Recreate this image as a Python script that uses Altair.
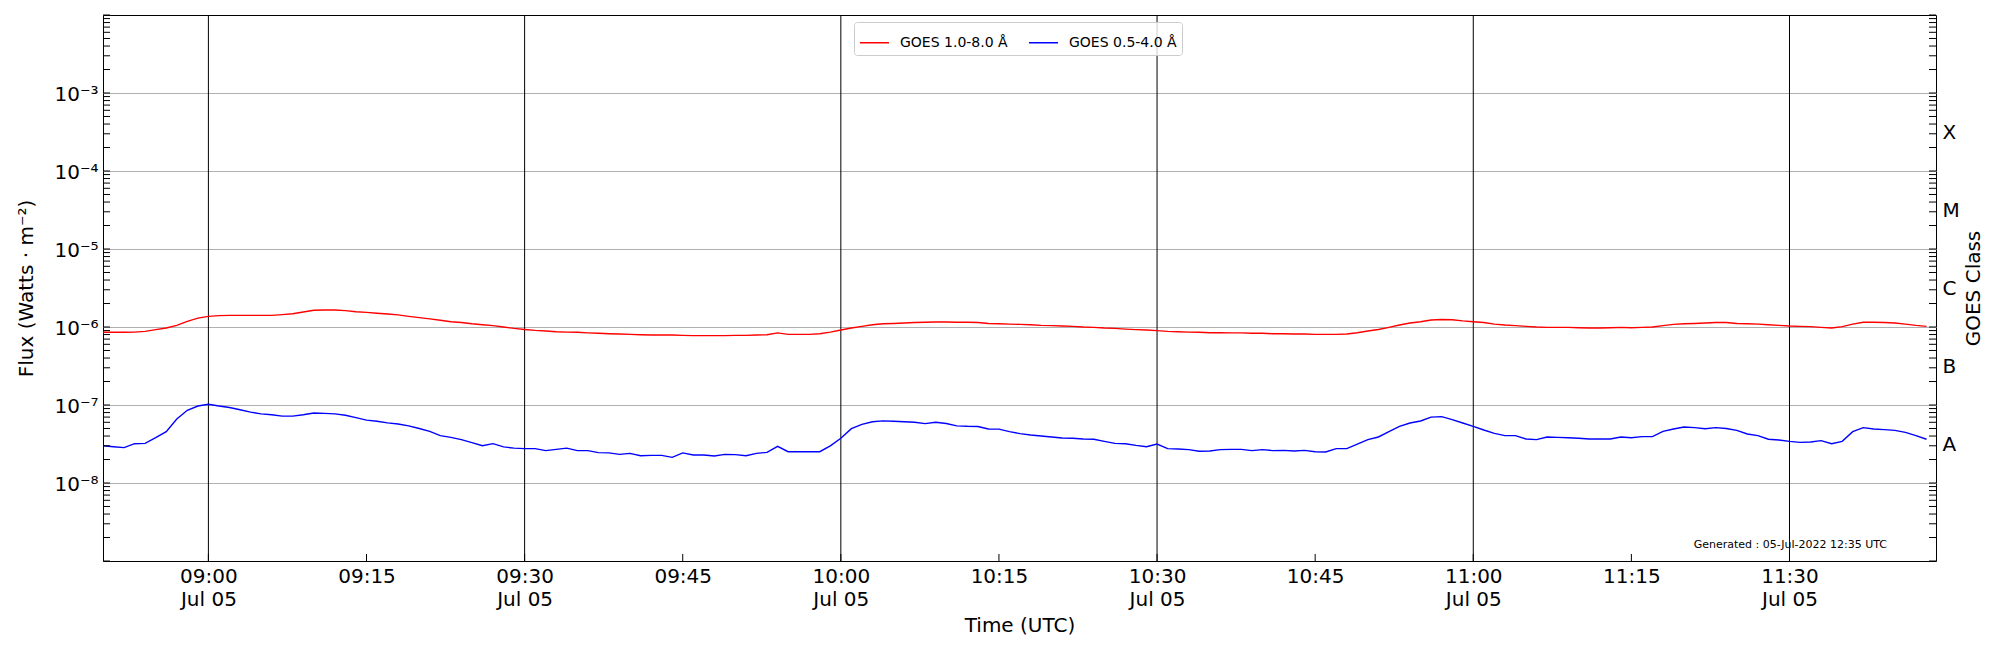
import altair as alt
import pandas as pd

# ---------------- data ----------------
start_time = "2022-07-05 08:50:00"   # 1-minute cadence
red_flux = [
    8.55e-7, 8.55e-7, 8.55e-7, 8.6e-7, 8.8e-7, 9.25e-7, 9.7e-7, 1.05e-6, 1.18e-6, 1.30e-6,
    1.37e-6, 1.40e-6, 1.41e-6, 1.41e-6, 1.41e-6, 1.41e-6, 1.41e-6, 1.44e-6, 1.48e-6, 1.56e-6,
    1.64e-6, 1.65e-6, 1.65e-6, 1.62e-6, 1.57e-6, 1.54e-6, 1.50e-6, 1.47e-6, 1.43e-6, 1.37e-6,
    1.32e-6, 1.27e-6, 1.22e-6, 1.17e-6, 1.14e-6, 1.10e-6, 1.07e-6, 1.04e-6, 1.00e-6, 9.6e-7,
    9.3e-7, 9.05e-7, 8.9e-7, 8.7e-7, 8.6e-7, 8.55e-7, 8.4e-7, 8.3e-7, 8.2e-7, 8.15e-7,
    8.05e-7, 7.95e-7, 7.9e-7, 7.9e-7, 7.9e-7, 7.8e-7, 7.75e-7, 7.75e-7, 7.75e-7, 7.75e-7,
    7.8e-7, 7.8e-7, 7.9e-7, 7.95e-7, 8.4e-7, 8.05e-7, 8.05e-7, 8.05e-7, 8.2e-7, 8.6e-7,
    9.15e-7, 9.7e-7, 1.02e-6, 1.07e-6, 1.10e-6, 1.11e-6, 1.125e-6, 1.14e-6, 1.15e-6, 1.16e-6,
    1.16e-6, 1.15e-6, 1.15e-6, 1.14e-6, 1.11e-6, 1.10e-6, 1.09e-6, 1.08e-6, 1.07e-6, 1.05e-6,
    1.04e-6, 1.03e-6, 1.02e-6, 1.00e-6, 9.9e-7, 9.7e-7, 9.6e-7, 9.4e-7, 9.25e-7, 9.15e-7,
    8.98e-7, 8.8e-7, 8.7e-7, 8.6e-7, 8.55e-7, 8.45e-7, 8.45e-7, 8.4e-7, 8.4e-7, 8.3e-7,
    8.3e-7, 8.2e-7, 8.2e-7, 8.15e-7, 8.15e-7, 8.05e-7, 8.05e-7, 8.05e-7, 8.15e-7, 8.45e-7,
    8.9e-7, 9.3e-7, 9.9e-7, 1.06e-6, 1.125e-6, 1.17e-6, 1.23e-6, 1.25e-6, 1.24e-6, 1.20e-6,
    1.17e-6, 1.14e-6, 1.09e-6, 1.06e-6, 1.04e-6, 1.02e-6, 1.00e-6, 9.9e-7, 9.9e-7, 9.9e-7,
    9.8e-7, 9.7e-7, 9.7e-7, 9.8e-7, 9.9e-7, 9.8e-7, 9.9e-7, 1.00e-6, 1.04e-6, 1.08e-6,
    1.10e-6, 1.11e-6, 1.125e-6, 1.14e-6, 1.14e-6, 1.11e-6, 1.10e-6, 1.09e-6, 1.07e-6, 1.05e-6,
    1.03e-6, 1.02e-6, 1.01e-6, 9.9e-7, 9.7e-7, 1.01e-6, 1.09e-6, 1.15e-6, 1.15e-6, 1.14e-6,
    1.125e-6, 1.09e-6, 1.05e-6, 1.02e-6,
]
blue_flux = [
    3.0e-8, 2.92e-8, 2.84e-8, 3.19e-8, 3.22e-8, 3.81e-8, 4.55e-8, 6.6e-8, 8.55e-8, 9.7e-8,
    1.02e-7, 9.7e-8, 9.3e-8, 8.7e-8, 8.1e-8, 7.7e-8, 7.5e-8, 7.2e-8, 7.2e-8, 7.5e-8,
    7.9e-8, 7.8e-8, 7.7e-8, 7.4e-8, 6.9e-8, 6.4e-8, 6.2e-8, 5.9e-8, 5.7e-8, 5.4e-8,
    5.0e-8, 4.6e-8, 4.05e-8, 3.85e-8, 3.6e-8, 3.3e-8, 3.0e-8, 3.2e-8, 2.9e-8, 2.8e-8,
    2.76e-8, 2.76e-8, 2.6e-8, 2.7e-8, 2.8e-8, 2.6e-8, 2.6e-8, 2.45e-8, 2.43e-8, 2.33e-8,
    2.4e-8, 2.24e-8, 2.26e-8, 2.26e-8, 2.13e-8, 2.43e-8, 2.29e-8, 2.29e-8, 2.22e-8, 2.33e-8,
    2.31e-8, 2.24e-8, 2.4e-8, 2.47e-8, 2.95e-8, 2.52e-8, 2.52e-8, 2.52e-8, 2.52e-8, 3.0e-8,
    3.74e-8, 4.97e-8, 5.65e-8, 6.1e-8, 6.25e-8, 6.2e-8, 6.1e-8, 6.0e-8, 5.77e-8, 6.0e-8,
    5.8e-8, 5.4e-8, 5.33e-8, 5.3e-8, 4.93e-8, 4.9e-8, 4.55e-8, 4.3e-8, 4.13e-8, 4.0e-8,
    3.89e-8, 3.77e-8, 3.74e-8, 3.67e-8, 3.64e-8, 3.42e-8, 3.22e-8, 3.19e-8, 3.04e-8, 2.92e-8,
    3.16e-8, 2.76e-8, 2.73e-8, 2.68e-8, 2.55e-8, 2.57e-8, 2.68e-8, 2.7e-8, 2.7e-8, 2.6e-8,
    2.68e-8, 2.6e-8, 2.62e-8, 2.57e-8, 2.62e-8, 2.52e-8, 2.5e-8, 2.76e-8, 2.76e-8, 3.16e-8,
    3.6e-8, 3.89e-8, 4.55e-8, 5.33e-8, 5.88e-8, 6.24e-8, 7.0e-8, 7.1e-8, 6.5e-8, 5.88e-8,
    5.33e-8, 4.78e-8, 4.33e-8, 4.05e-8, 4.05e-8, 3.67e-8, 3.6e-8, 3.89e-8, 3.85e-8, 3.81e-8,
    3.74e-8, 3.67e-8, 3.67e-8, 3.67e-8, 3.89e-8, 3.81e-8, 3.93e-8, 3.93e-8, 4.6e-8, 4.93e-8,
    5.22e-8, 5.13e-8, 4.97e-8, 5.13e-8, 5.0e-8, 4.73e-8, 4.25e-8, 4.05e-8, 3.64e-8, 3.56e-8,
    3.42e-8, 3.32e-8, 3.35e-8, 3.49e-8, 3.19e-8, 3.42e-8, 4.55e-8, 5.13e-8, 4.93e-8, 4.83e-8,
    4.73e-8, 4.46e-8, 4.05e-8, 3.64e-8,
]
channel_names = ["GOES 1.0-8.0 Å", "GOES 0.5-4.0 Å"]
channel_colors = ["#ff0000", "#0000ff"]

decade_ticks = [1e-8, 1e-7, 1e-6, 1e-5, 1e-4, 1e-3]
class_labels = ["A", "B", "C", "M", "X"]
class_centers = [3.162e-8, 3.162e-7, 3.162e-6, 3.162e-5, 3.162e-4]
x_tick_times = ["09:00", "09:15", "09:30", "09:45", "10:00", "10:15",
                "10:30", "10:45", "11:00", "11:15", "11:30"]
vline_times = ["09:00", "09:30", "10:00", "10:30", "11:00", "11:30"]
generated_text = "Generated : 05-Jul-2022 12:35 UTC"

# ---------------- build tables ----------------
times = pd.date_range(start_time, periods=len(red_flux), freq="1min")
tstr = [t.strftime("%Y-%m-%dT%H:%M:%SZ") for t in times]
df = pd.concat([
    pd.DataFrame({"time": tstr, "flux": red_flux, "channel": channel_names[0]}),
    pd.DataFrame({"time": tstr, "flux": blue_flux, "channel": channel_names[1]}),
])

def iso(hm):
    return f"2022-07-05T{hm}:00Z"

def dt(h, m, s=0):
    return alt.DateTime(year=2022, month=7, date=5, hours=h, minutes=m, seconds=s, utc=True)

all_ticks = [k * 10.0 ** e for e in range(-9, -2) for k in range(1, 10)] + [1e-2]
tick_df = pd.DataFrame({"v": all_ticks})
xt_df = pd.DataFrame({"t": [iso(t) for t in x_tick_times]})
vl_df = pd.DataFrame({"t": [iso(t) for t in vline_times]})
cls_df = pd.DataFrame({"v": class_centers, "lab": class_labels})

W, H = 1833, 546
FONT = "DejaVu Sans"
yscale = alt.Scale(type="log", domain=[1e-9, 1e-2])
xscale = alt.Scale(type="utc", domain=[dt(8, 50, 0), dt(11, 43, 54)])
x_axis_values = [dt(int(t[:2]), int(t[3:])) for t in x_tick_times]

sup = "['⁰','¹','²','³','⁴','⁵','⁶','⁷','⁸','⁹']"
y_label_expr = f"'10⁻' + {sup}[round(-log(datum.value)/LN10)]"
x_label_expr = ("utcminutes(datum.value) % 30 == 0 ? "
                "[utcFormat(datum.value, '%H:%M'), utcFormat(datum.value, '%b %d')] : "
                "utcFormat(datum.value, '%H:%M')")
cls_rev = "[" + ",".join(f"'{c}'" for c in reversed(class_labels)) + "]"
cls_label_expr = f"{cls_rev}[round(-log(datum.value)/LN10 - 3.5)]"

x_axis = alt.Axis(values=x_axis_values, labelExpr=x_label_expr,
                  title="Time (UTC)", grid=False, ticks=False, tickSize=0,
                  domain=False, labelPadding=5, labelLineHeight=23,
                  labelFontSize=20, labelFont=FONT, labelColor="black",
                  labelFlush=False, labelOverlap=False,
                  titleFontSize=20, titleFont=FONT, titleFontWeight="normal",
                  titleColor="black", titleY=70, titleBaseline="alphabetic")

vlines = alt.Chart(vl_df).mark_rule(color="black", strokeWidth=1).encode(
    x=alt.X("t:T", scale=xscale, axis=x_axis)
)

lines = alt.Chart(df).mark_line(strokeWidth=1.4).encode(
    x=alt.X("time:T", scale=xscale, axis=x_axis),
    y=alt.Y("flux:Q", scale=yscale,
            axis=alt.Axis(values=decade_ticks, labelExpr=y_label_expr,
                          grid=True, gridColor="#b0b0b0", gridWidth=1,
                          ticks=False, tickSize=0, domain=False, labelPadding=5,
                          labelFontSize=20, labelFont=FONT, labelColor="black",
                          labelBaseline="middle", labelOffset=1,
                          title="Flux (Watts · m⁻²)", titleFontSize=20, titleFont=FONT,
                          titleFontWeight="normal", titleColor="black",
                          titleX=-77, titleY=H / 2, titleAngle=270,
                          titleBaseline="middle")),
    color=alt.Color("channel:N",
                    scale=alt.Scale(domain=channel_names, range=channel_colors),
                    legend=alt.Legend(orient="none", legendX=751, legendY=7,
                                      direction="horizontal", title=None,
                                      symbolType="stroke", symbolSize=841,
                                      symbolStrokeWidth=1.5, labelFontSize=14,
                                      labelFont=FONT, labelColor="black",
                                      labelOffset=10, columnPadding=18, padding=5,
                                      fillColor="rgba(255,255,255,0.8)",
                                      strokeColor="#cccccc", cornerRadius=3)),
)

left_ticks = alt.Chart(tick_df).mark_rule(color="black", strokeWidth=1).encode(
    y=alt.Y("v:Q", scale=yscale, axis=None), x=alt.value(0), x2=alt.value(7)
)
right_ticks = alt.Chart(tick_df).mark_rule(color="black", strokeWidth=1).encode(
    y=alt.Y("v:Q", scale=yscale, axis=None), x=alt.value(W - 7), x2=alt.value(W)
)
bottom_ticks = alt.Chart(xt_df).mark_rule(color="black", strokeWidth=1).encode(
    x=alt.X("t:T", scale=xscale, axis=x_axis), y=alt.value(H - 7), y2=alt.value(H)
)

right_axis = alt.Chart(cls_df).mark_point(opacity=0).encode(
    y=alt.Y("v:Q", scale=yscale,
            axis=alt.Axis(orient="right", values=class_centers, labelExpr=cls_label_expr,
                          ticks=False, tickSize=0, domain=False, grid=False,
                          labelPadding=6, labelAlign="left", labelBaseline="middle",
                          labelFontSize=20, labelFont=FONT, labelColor="black",
                          title="GOES Class", titleFontSize=20, titleFont=FONT,
                          titleFontWeight="normal", titleColor="black",
                          titleAngle=270, titleX=37, titleY=H / 2,
                          titleBaseline="middle"))
)

gen = alt.Chart(pd.DataFrame({"txt": [generated_text]})).mark_text(
    align="right", baseline="alphabetic", fontSize=11, font=FONT, color="black"
).encode(text="txt:N", x=alt.value(1784), y=alt.value(533))

chart = alt.layer(
    vlines, lines, left_ticks, right_ticks, bottom_ticks, right_axis, gen
).resolve_scale(y="independent").properties(
    width=W, height=H,
    padding={"left": 95, "top": 7, "right": 50, "bottom": 85},
    autosize=alt.AutoSizeParams(type="none"),
).configure(font=FONT).configure_view(stroke="black", strokeWidth=1)

chart.save("out.html", embed_options={"renderer": "svg", "actions": False})
